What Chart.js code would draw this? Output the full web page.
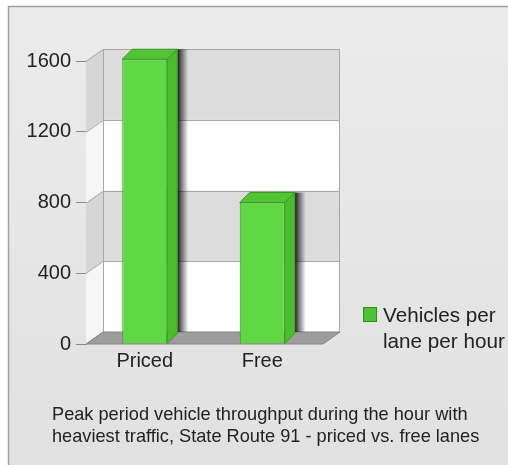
<!DOCTYPE html>
<html><head><meta charset="utf-8">
<script src="https://cdn.jsdelivr.net/npm/chart.js@4"></script>
<style>html,body{margin:0;padding:0;background:#fff;overflow:hidden}#wrap{width:508px;height:465px}</style>
</head><body><div id="wrap"><canvas id="c"></canvas></div>
<script>
const categories = ['Priced', 'Free'];
const seriesLabel = 'Vehicles per lane per hour';
const vehiclesPerLanePerHour = [1610, 800];
const yTicks = [0, 400, 800, 1200, 1600];
const legendLines = ['Vehicles per', 'lane per hour'];
const captionLines = ['Peak period vehicle throughput during the hour with',
                      'heaviest traffic, State Route 91 - priced vs. free lanes'];

const FONT = '"Liberation Sans", Arial, sans-serif';
const DX = 17, DY = 12, BDX = 10, BDY = 10, WALL_EXTRA = 2;

const threeD = {
  id: 'threeD',
  beforeDraw(chart) {
    const ctx = chart.ctx, W = chart.width, H = chart.height;
    ctx.save();
    ctx.fillStyle = '#fff'; ctx.fillRect(0, 0, W, H);
    const g = ctx.createLinearGradient(0, 6, 0, H);
    g.addColorStop(0, '#ebebeb'); g.addColorStop(1, '#e1e1e1');
    ctx.fillStyle = g; ctx.fillRect(8, 6, W - 8, H - 6);
    ctx.strokeStyle = '#a0a0a0'; ctx.lineWidth = 1.5;
    ctx.beginPath(); ctx.moveTo(8.5, H); ctx.lineTo(8.5, 6.5); ctx.lineTo(W, 6.5); ctx.stroke();
    ctx.restore();
  },
  beforeDatasetsDraw(chart) {
    const ctx = chart.ctx, a = chart.chartArea, y = chart.scales.y;
    const L = a.left, R = a.right + WALL_EXTRA, B = a.bottom;
    ctx.save();
    for (let i = 0; i < yTicks.length - 1; i++) {
      const y0 = y.getPixelForValue(yTicks[i]), y1 = y.getPixelForValue(yTicks[i + 1]);
      const gray = i % 2 === 1;
      ctx.fillStyle = gray ? '#dcdcdc' : '#ffffff';
      ctx.fillRect(L + DX, y1 - DY, R - L, y0 - y1);
      ctx.fillStyle = gray ? '#d6d6d6' : '#f6f6f6';
      ctx.beginPath(); ctx.moveTo(L, y0); ctx.lineTo(L, y1); ctx.lineTo(L + DX, y1 - DY); ctx.lineTo(L + DX, y0 - DY); ctx.closePath(); ctx.fill();
    }
    ctx.strokeStyle = '#a8a8a8'; ctx.lineWidth = 1;
    yTicks.forEach(v => {
      const p = Math.round(y.getPixelForValue(v)) + 0.5;
      ctx.beginPath(); ctx.moveTo(L, p); ctx.lineTo(L + DX, p - DY); ctx.lineTo(R + DX, p - DY); ctx.stroke();
    });
    const top = Math.round(y.getPixelForValue(yTicks[yTicks.length - 1])) + 0.5;
    ctx.beginPath();
    ctx.moveTo(L + DX + 0.5, B - DY); ctx.lineTo(L + DX + 0.5, top - DY);
    ctx.moveTo(R + DX - 0.5, B - DY); ctx.lineTo(R + DX - 0.5, top - DY);
    ctx.stroke();
    // floor
    ctx.fillStyle = '#9d9d9d'; ctx.strokeStyle = '#858585';
    ctx.beginPath(); ctx.moveTo(L, B); ctx.lineTo(R, B); ctx.lineTo(R + DX, B - DY); ctx.lineTo(L + DX, B - DY); ctx.closePath();
    ctx.fill(); ctx.stroke();
    // shadows behind bars
    chart.getDatasetMeta(0).data.forEach(bar => {
      const xr = bar.x + bar.width / 2 + BDX;
      const sg = ctx.createLinearGradient(xr, 0, xr + 11, 0);
      sg.addColorStop(0, 'rgba(0,0,0,0.9)'); sg.addColorStop(0.35, 'rgba(0,0,0,0.55)'); sg.addColorStop(1, 'rgba(0,0,0,0)');
      ctx.fillStyle = sg;
      ctx.fillRect(xr, bar.y - BDY, 11, (B - DY) - (bar.y - BDY));
    });
    ctx.restore();
  },
  afterDatasetsDraw(chart) {
    const ctx = chart.ctx;
    ctx.save();
    ctx.lineWidth = 1; ctx.strokeStyle = '#3c9a24';
    chart.getDatasetMeta(0).data.forEach(bar => {
      const l = bar.x - bar.width / 2, r = bar.x + bar.width / 2, t = bar.y, b = bar.base;
      ctx.fillStyle = '#4bbd2d';
      ctx.beginPath(); ctx.moveTo(r, t); ctx.lineTo(r + BDX, t - BDY); ctx.lineTo(r + BDX, b - BDY); ctx.lineTo(r, b); ctx.closePath();
      ctx.fill(); ctx.stroke();
      ctx.fillStyle = '#52c436';
      ctx.beginPath(); ctx.moveTo(l, t); ctx.lineTo(r, t); ctx.lineTo(r + BDX, t - BDY); ctx.lineTo(l + BDX, t - BDY); ctx.closePath();
      ctx.fill(); ctx.stroke();
    });
    ctx.restore();
  },
  afterDraw(chart) {
    const ctx = chart.ctx;
    ctx.save();
    // legend
    ctx.fillStyle = '#4cc234'; ctx.strokeStyle = '#2f8a1c'; ctx.lineWidth = 1;
    ctx.fillRect(363, 307, 14, 15); ctx.strokeRect(363.5, 307.5, 13, 14);
    ctx.fillStyle = '#222'; ctx.font = '20.7px ' + FONT; ctx.textBaseline = 'alphabetic'; ctx.textAlign = 'left';
    ctx.fillText(legendLines[0], 383, 322);
    ctx.fillText(legendLines[1], 383, 348);
    // caption
    ctx.font = '18.2px ' + FONT;
    ctx.fillText(captionLines[0], 52, 420);
    ctx.fillText(captionLines[1], 52, 442);
    ctx.restore();
  }
};

new Chart(document.getElementById('c'), {
  type: 'bar',
  data: {
    labels: categories,
    datasets: [{
      label: seriesLabel,
      data: vehiclesPerLanePerHour,
      backgroundColor: '#60d846',
      borderColor: '#3c9a24',
      borderWidth: 1,
      barPercentage: 0.383,
      categoryPercentage: 1,
      clip: false
    }]
  },
  options: {
    responsive: true,
    maintainAspectRatio: false,
    animation: false,
    layout: { padding: { left: 0, top: 61, right: 508 - 321, bottom: 81 } },
    plugins: { legend: { display: false }, tooltip: { enabled: false }, title: { display: false } },
    scales: {
      x: {
        grid: { display: false, drawTicks: false },
        border: { display: false },
        ticks: { font: { size: 20, family: FONT }, color: '#222', padding: 5 },
        afterFit(s) { s.height = 40; }
      },
      y: {
        min: 0, max: 1600,
        afterBuildTicks(s) { s.ticks = yTicks.map(v => ({ value: v })); },
        grid: { drawOnChartArea: false, drawTicks: true, tickLength: 10, color: '#8a8a8a' },
        border: { display: true, color: '#a0a0a0' },
        ticks: { font: { size: 20, family: FONT }, color: '#222', padding: 5, callback: v => String(v) },
        afterFit(s) { s.width = 86; }
      }
    }
  },
  plugins: [threeD]
});
</script></body></html>
